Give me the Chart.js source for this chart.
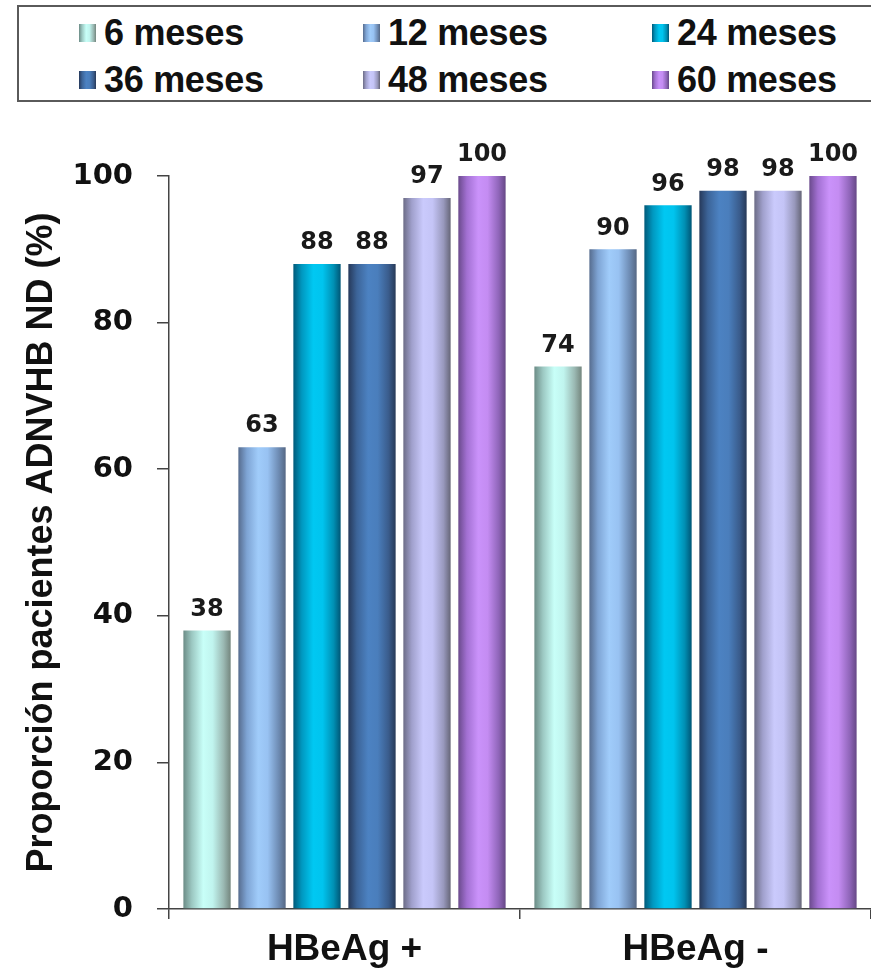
<!DOCTYPE html>
<html>
<head>
<meta charset="utf-8">
<script src="https://cdn.jsdelivr.net/npm/chart.js@4.4.1/dist/chart.umd.min.js"></script>
<style>
  html, body { margin: 0; padding: 0; background: #fff; }
  #wrap { position: relative; width: 871px; height: 972px; overflow: hidden; }
  #chart { position: absolute; left: 0; top: 0; }
  #legend {
    position: absolute; left: 17px; top: 5px; width: 870px; height: 97px;
    border: 2px solid #5a5a5a; box-sizing: border-box; background: #fff;
  }
  .item { position: absolute; height: 40px; display: flex; align-items: center; }
  .sw { width: 17px; height: 18px; margin-right: 8px; }
  .lbl { font: bold 36px "Liberation Sans", Arial, sans-serif; color: #111; letter-spacing: -0.3px; }
</style>
</head>
<body>
<div id="wrap">
  <canvas id="chart" width="871" height="972"></canvas>
  <div id="legend"></div>
</div>
<script>
// Groups on the x axis
const categories = ['HBeAg +', 'HBeAg -'];

// Follow-up periods (one series each)
const seriesLabels = ['6 meses', '12 meses', '24 meses', '36 meses', '48 meses', '60 meses'];

// Percentage of patients with undetectable HBV DNA, per group
const m6  = [38, 74];
const m12 = [63, 90];
const m24 = [88, 96];
const m36 = [88, 98];
const m48 = [97, 98];
const m60 = [100, 100];

// Y axis ticks
const yTicks = [0, 20, 40, 60, 80, 100];

// Cylinder-style shading for each series: edge, mid, light, light, mid, edge
const shades = [
  ['#6c8c86', '#9cc8c2', '#c8fff8', '#c0f4ee', '#9ab8b2', '#74867e'],
  ['#566c8e', '#7ea4d4', '#a0ccfa', '#98c2f2', '#6e8cb4', '#566884'],
  ['#005a7a', '#0098c0', '#00c8f2', '#00c4ee', '#0090b4', '#005676'],
  ['#26395a', '#3c6498', '#4c82c2', '#4a7ebc', '#3a5c8c', '#283a58'],
  ['#6c6c86', '#a0a0cc', '#cacafc', '#c4c4f6', '#9898bc', '#666678'],
  ['#6a4a8c', '#a270d2', '#ca92fa', '#c48cf2', '#9066ba', '#664886']
];
const stopPos = [0, 0.18, 0.42, 0.62, 0.85, 1];

const seriesValues = [m6, m12, m24, m36, m48, m60];

const datasets = seriesLabels.map((label, i) => ({
  label,
  data: seriesValues[i],
  shade: shades[i],
  // scriptable so each bar keeps its own options object for shading
  backgroundColor: () => shades[i][2],
  borderWidth: 0,
  barPercentage: 0.86,
  categoryPercentage: 0.94
}));

// Horizontal gradient across every bar, built from the bar's own geometry
const barShading = {
  id: 'barShading',
  beforeDatasetsDraw(chart) {
    const ctx = chart.ctx;
    chart.data.datasets.forEach((ds, di) => {
      const meta = chart.getDatasetMeta(di);
      meta.data.forEach(el => {
        const x0 = el.x - el.width / 2, x1 = el.x + el.width / 2;
        const g = ctx.createLinearGradient(x0, 0, x1, 0);
        ds.shade.forEach((c, k) => g.addColorStop(stopPos[k], c));
        el.options.backgroundColor = g;
      });
    });
  }
};

// Value printed above each bar
const valueLabels = {
  id: 'valueLabels',
  afterDatasetsDraw(chart) {
    const ctx = chart.ctx;
    ctx.save();
    ctx.font = 'bold 24px "DejaVu Sans", sans-serif';
    ctx.fillStyle = '#1a1a1a';
    ctx.textAlign = 'center';
    ctx.textBaseline = 'bottom';
    chart.data.datasets.forEach((ds, di) => {
      chart.getDatasetMeta(di).data.forEach((el, j) => {
        ctx.fillText(String(ds.data[j]), el.x, el.y - 9);
      });
    });
    ctx.restore();
  }
};

const chart = new Chart(document.getElementById('chart'), {
  type: 'bar',
  data: { labels: categories, datasets },
  options: {
    responsive: false,
    animation: false,
    events: [],
    layout: { padding: { left: 8, right: 0, top: 176, bottom: 0 } },
    plugins: { legend: { display: false }, tooltip: { enabled: false } },
    scales: {
      x: {
        grid: { offset: true, drawOnChartArea: false, drawTicks: true, tickLength: 10, color: '#444', lineWidth: 1.5 },
        border: { display: true, color: '#444', width: 1.5 },
        ticks: { color: '#111', padding: 9, font: { family: '"Liberation Sans", Arial, sans-serif', weight: 'bold', size: 37 } },
        afterFit(scale) { scale.height = 63; }
      },
      y: {
        min: 0, max: 100,
        afterBuildTicks(scale) { scale.ticks = yTicks.map(v => ({ value: v })); },
        grid: { drawOnChartArea: false, drawTicks: true, tickLength: 12, color: '#444', lineWidth: 1.5 },
        border: { display: true, color: '#444', width: 1.5 },
        ticks: { color: '#111', padding: 24, font: { family: '"DejaVu Sans", sans-serif', weight: 'bold', size: 29 } },
        title: {
          display: true,
          text: 'Proporción pacientes ADNVHB ND (%)',
          color: '#111',
          padding: { top: 12, bottom: 0 },
          font: { family: '"Liberation Sans", Arial, sans-serif', weight: 'bold', size: 36 }
        },
        afterFit(scale) { scale.width = 161; }
      }
    }
  },
  plugins: [barShading, valueLabels]
});

// Legend box: three columns, two rows, built from the chart's datasets
const legendEl = document.getElementById('legend');
const colX = [60, 344, 633];
const rowY = [6, 53];
chart.data.datasets.forEach((ds, i) => {
  const item = document.createElement('div');
  item.className = 'item';
  item.style.left = colX[i % 3] + 'px';
  item.style.top = rowY[Math.floor(i / 3)] + 'px';
  const sw = document.createElement('div');
  sw.className = 'sw';
  sw.style.background = 'linear-gradient(to right,' +
    ds.shade.map((c, k) => c + ' ' + Math.round(stopPos[k] * 100) + '%').join(',') + ')';
  const lbl = document.createElement('span');
  lbl.className = 'lbl';
  lbl.textContent = ds.label;
  item.appendChild(sw);
  item.appendChild(lbl);
  legendEl.appendChild(item);
});
</script>
</body>
</html>
